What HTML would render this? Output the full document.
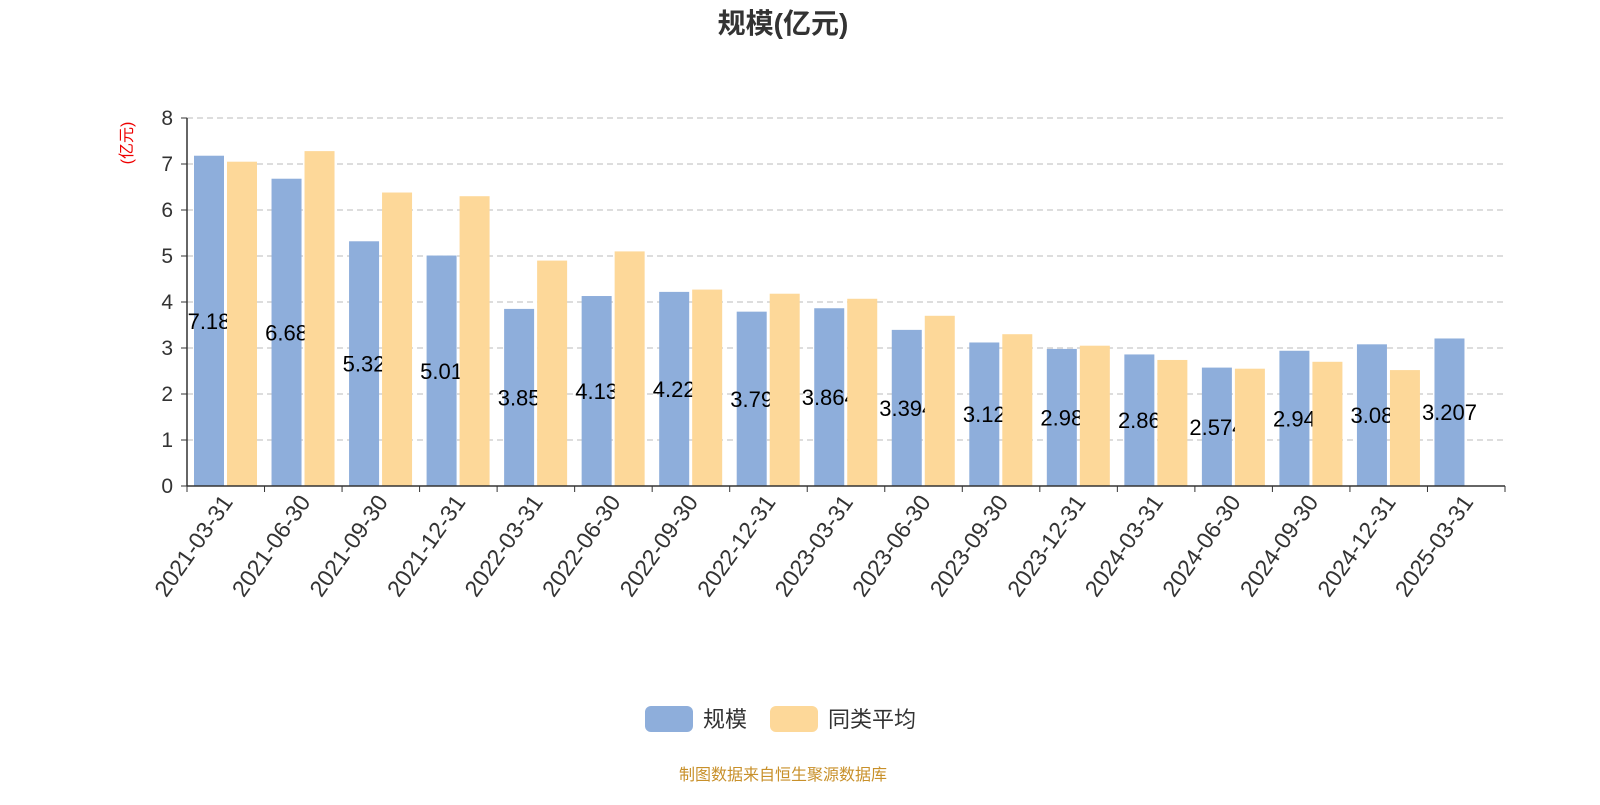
<!DOCTYPE html>
<html><head><meta charset="utf-8"><style>
body{margin:0;background:#fff;font-family:"Liberation Sans","Noto Sans CJK SC",sans-serif;}
</style></head><body>
<svg width="1600" height="800" xmlns="http://www.w3.org/2000/svg" style="font-family:'Liberation Sans','Noto Sans CJK SC',sans-serif">
<text x="783" y="33" text-anchor="middle" font-size="28" font-weight="bold" fill="#333">规模(亿元)</text>
<text transform="translate(132,143) rotate(-90)" text-anchor="middle" font-size="16" fill="#e00">(亿元)</text>
<g id="grid"></g><g id="bars"></g><g id="axes"></g>
<g>
<rect x="645" y="706" width="48" height="26" rx="6" fill="#8eaedb"/>
<text x="703" y="727" font-size="22" fill="#333">规模</text>
<rect x="770" y="706" width="48" height="26" rx="6" fill="#fdd899"/>
<text x="828" y="727" font-size="22" fill="#333">同类平均</text>
</g>
<text x="783" y="780" text-anchor="middle" font-size="16" fill="#c8902a">制图数据来自恒生聚源数据库</text>
</svg>
<script>
const categories=["2021-03-31","2021-06-30","2021-09-30","2021-12-31","2022-03-31","2022-06-30","2022-09-30","2022-12-31","2023-03-31","2023-06-30","2023-09-30","2023-12-31","2024-03-31","2024-06-30","2024-09-30","2024-12-31","2025-03-31"];
const scaleValues=[7.18,6.68,5.32,5.01,3.85,4.13,4.22,3.79,3.864,3.394,3.12,2.98,2.86,2.574,2.94,3.08,3.207];
const avgValues=[7.05,7.28,6.38,6.3,4.9,5.1,4.27,4.18,4.07,3.7,3.3,3.05,2.74,2.55,2.7,2.52,null];
const yTicks=[0,1,2,3,4,5,6,7,8];
const NS="http://www.w3.org/2000/svg";
const x0=187,x1=1505,yb=486,yt=118,ymax=8;
const bw=(x1-x0)/categories.length;
const X=i=>x0+i*bw;
const Y=v=>yb-(v/ymax)*(yb-yt);
function mk(t,a,p){const e=document.createElementNS(NS,t);for(const k in a)e.setAttribute(k,a[k]);p.appendChild(e);return e;}
const grid=document.getElementById('grid'),bars=document.getElementById('bars'),axes=document.getElementById('axes');
yTicks.forEach(v=>{
 if(v>0){const l=mk('line',{x1:x0,x2:x1,y1:Y(v),y2:Y(v),stroke:'#bbb','stroke-dasharray':'6,4'},grid);
 
 }
 const tk=mk('line',{x1:x0-6,x2:x0,y1:Y(v),y2:Y(v),stroke:'#333'},axes);
 
 
 const t=mk('text',{x:x0-14,y:Y(v)+7,'text-anchor':'end','font-size':21,fill:'#333'},axes);t.textContent=v;
 
 
});
categories.forEach((c,i)=>{
 const r=mk('rect',{x:X(i)+7,y:Y(scaleValues[i]),width:30,height:yb-Y(scaleValues[i]),fill:'#8eaedb'},bars);
 
 
 const t=mk('text',{x:X(i)+22,y:(Y(scaleValues[i])+yb)/2+8,'text-anchor':'middle','font-size':22,fill:'#000'},bars);t.textContent=scaleValues[i];
 
 
 if(avgValues[i]!=null){const o=mk('rect',{x:X(i)+40,y:Y(avgValues[i]),width:30,height:yb-Y(avgValues[i]),fill:'#fdd899'},bars);
 
 }
 const tk=mk('line',{x1:X(i),x2:X(i),y1:yb,y2:yb+6,stroke:'#333'},axes);
 
 
 const cx=X(i)+bw/2;
 const lt=mk('text',{x:0,y:0,'text-anchor':'end','font-size':23,fill:'#333',transform:`translate(${cx+8},${yb+16}) rotate(-55)`},axes);lt.textContent=c;
 
 
});
const te=mk('line',{x1:x1,x2:x1,y1:yb,y2:yb+6,stroke:'#333'},axes);


const xa=mk('line',{x1:x0,x2:x1,y1:yb,y2:yb,stroke:'#333','stroke-width':1.5},axes);


const ya=mk('line',{x1:x0,x2:x0,y1:yt,y2:yb,stroke:'#333','stroke-width':1.5},axes);


</script>
</body></html>
